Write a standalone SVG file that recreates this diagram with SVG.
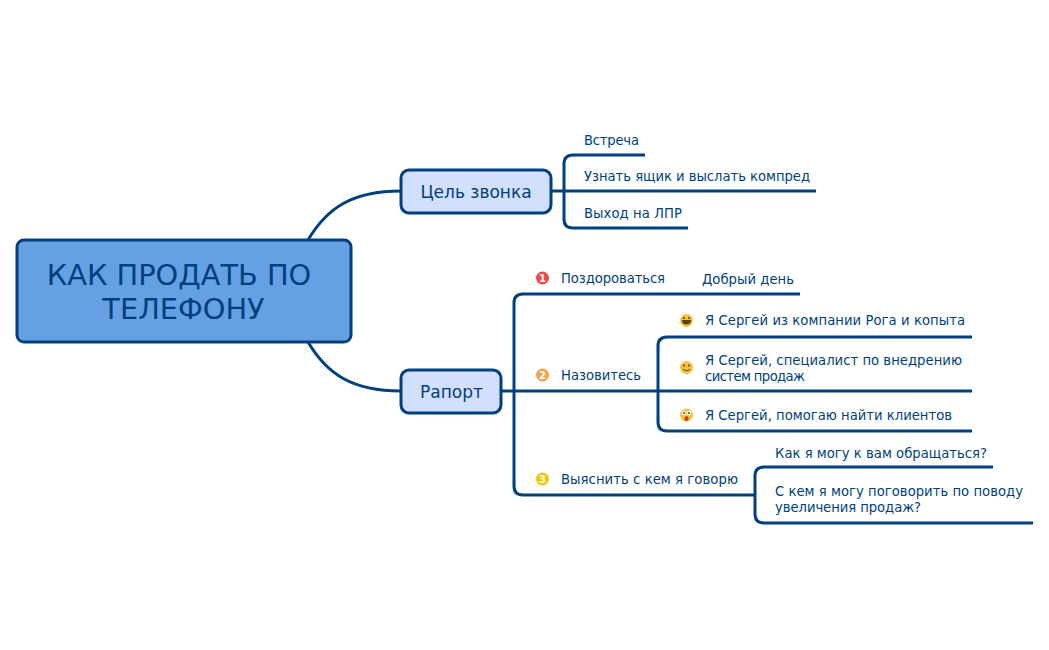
<svg xmlns="http://www.w3.org/2000/svg" width="1049" height="650" viewBox="0 0 1049 650">
<style>
text{font-family:"DejaVu Sans",Verdana,sans-serif;fill:#003f7f}
.t{font-size:13.2px}
.m{font-size:17px;text-anchor:middle}
.r{font-size:28.800px;text-anchor:middle}
.c{fill:none;stroke:#004080;stroke-width:3}
.n{stroke:#004080;stroke-width:3}
.f{fill:#f5c33b}
.d{fill:#5a3d10}
.num{font-size:10px;font-weight:bold;fill:#fff;text-anchor:middle}
</style>
<rect width="1049" height="650" fill="#fff"/>
<g id="connectors">
<path class="c" d="M308 240C327 208 352 191 401 191"/>
<path class="c" d="M308 342C327 374 352 391 401 391"/>
<path class="c" d="M552 191H816M564 191V164Q564 155 573 155H645M564 191V219Q564 228 573 228H688"/>
<path class="c" d="M502 391H972M514 391V303Q514 294 523 294H800M514 391V486Q514 495 523 495H755"/>
<path class="c" d="M658 391V346Q658 337 667 337H972M658 391V422Q658 431 667 431H972"/>
<path class="c" d="M755 495V514Q755 523 764 523H1033M755 495V476Q755 467 764 467H993"/>
</g>
<g id="root"><rect class="n" x="17" y="240" width="334" height="102" rx="7" fill="#65a1e2"/>
<text class="r" x="179" y="285">КАК ПРОДАТЬ ПО</text><text class="r" x="183.500" y="319">ТЕЛЕФОНУ</text></g>
<g id="goal"><rect class="n" x="401" y="170" width="150" height="43" rx="8" fill="#d3e0fd"/><text class="m" x="476" y="198">Цель звонка</text></g>
<g id="rapport"><rect class="n" x="401" y="370" width="100" height="43" rx="8" fill="#d3e0fd"/><text class="m" x="451.500" y="398">Рапорт</text></g>
<g id="goal-1"><text class="t" x="584" y="145" textLength="55">Встреча</text></g>
<g id="goal-2"><text class="t" x="584" y="181" textLength="226">Узнать ящик и выслать компред</text></g>
<g id="goal-3"><text class="t" x="584" y="218" textLength="98">Выход на ЛПР</text></g>
<g id="hello"><circle cx="542.500" cy="278" r="6.500" fill="#f04848"/><text class="num" x="542.500" y="282">1</text><text class="t" x="561" y="283" textLength="104">Поздороваться</text></g>
<g id="hello-1"><text class="t" x="702" y="284" textLength="92">Добрый день</text></g>
<g id="name"><circle cx="542.500" cy="375" r="6.500" fill="#f7a04a"/><text class="num" x="542.500" y="379">2</text><text class="t" x="561" y="380" textLength="80">Назовитесь</text></g>
<g id="name-1"><circle class="f" cx="686.500" cy="320.500" r="6.500"/><path class="d" d="M682 320h9q0 4.500-4.500 4.500T682 320z"/><circle class="d" cx="684" cy="318" r="1"/><circle class="d" cx="689" cy="318" r="1"/><text class="t" x="705" y="325" textLength="260">Я Сергей из компании Рога и копыта</text></g>
<g id="name-2"><circle class="f" cx="686.500" cy="367.500" r="6.500"/><path d="M683 369q3.500 3.500 7 0" fill="none" stroke="#5a3d10"/><circle class="d" cx="684" cy="365.500" r="1"/><circle class="d" cx="689" cy="365.500" r="1"/><text class="t" x="705" y="365" textLength="257">Я Сергей, специалист по внедрению</text><text class="t" x="705" y="381" textLength="100">систем продаж</text></g>
<g id="name-3"><circle class="f" cx="686.500" cy="415" r="6.500"/><circle cx="684" cy="413" r="2.200" fill="#fff"/><circle cx="689" cy="413" r="2.200" fill="#fff"/><circle class="d" cx="684" cy="413" r="1"/><circle class="d" cx="689" cy="413" r="1"/><ellipse cx="686.500" cy="418.500" rx="2" ry="2.500" fill="#c8402a"/><text class="t" x="705" y="420" textLength="247">Я Сергей, помогаю найти клиентов</text></g>
<g id="ask"><circle cx="542.500" cy="479" r="6.500" fill="#f0c808"/><text class="num" x="542.500" y="483">3</text><text class="t" x="561" y="484" textLength="177">Выяснить с кем я говорю</text></g>
<g id="ask-1"><text class="t" x="775" y="458" textLength="212">Как я могу к вам обращаться?</text></g>
<g id="ask-2"><text class="t" x="775" y="496" textLength="248">С кем я могу поговорить по поводу</text><text class="t" x="775" y="512" textLength="146">увеличения продаж?</text></g>
</svg>
